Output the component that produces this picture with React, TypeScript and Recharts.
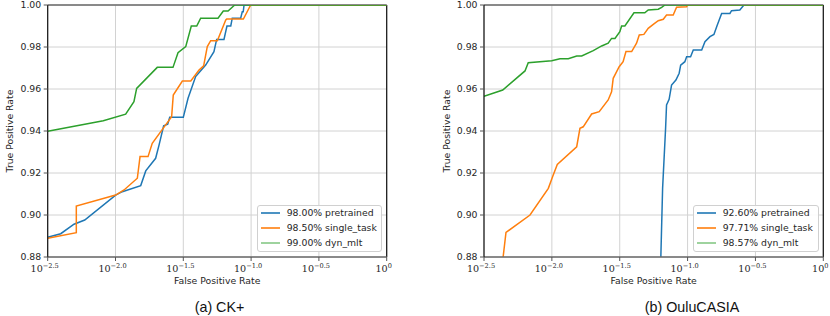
import React from 'react';
import { LineChart, Line, XAxis, YAxis, CartesianGrid, ReferenceLine, Legend } from 'recharts';

// Axis ticks (x axis is log10 of the false positive rate)
const xTicks = [-2.5, -2, -1.5, -1, -0.5, 0];
const xTickExponents = ['\u22122.5', '\u22122.0', '\u22121.5', '\u22121.0', '\u22120.5', '0'];
const yTicks = [0.88, 0.9, 0.92, 0.94, 0.96, 0.98, 1.0];

const seriesNames = ['pretrained', 'single_task', 'dyn_mlt'];
const ckScores = ['98.00%', '98.50%', '99.00%'];
const ouluScores = ['92.60%', '97.71%', '98.57%'];
const captions = ['(a) CK+', '(b) OuluCASIA'];

// [log10(FPR), TPR]
const ckPretrained: number[][] = [
  [-2.5, 0.8894], [-2.404, 0.8911], [-2.306, 0.8956], [-2.227, 0.8976], [-1.999, 0.9095],
  [-1.95, 0.9111], [-1.814, 0.914], [-1.777, 0.921], [-1.704, 0.927], [-1.679, 0.9333],
  [-1.645, 0.9425], [-1.615, 0.9432], [-1.6, 0.9465], [-1.5, 0.9465], [-1.465, 0.9556],
  [-1.409, 0.9659], [-1.335, 0.9714], [-1.274, 0.9778], [-1.254, 0.9836], [-1.2, 0.9836],
  [-1.178, 0.99], [-1.15, 0.99], [-1.139, 0.9937], [-1.077, 0.9937], [-1.065, 0.9968],
  [-1.058, 0.9968], [-1.052, 1.0], [0, 1.0],
];
const ckSingleTask: number[][] = [
  [-2.5, 0.8889], [-2.289, 0.8916], [-2.289, 0.9043], [-1.999, 0.9095], [-1.937, 0.9119],
  [-1.839, 0.9175], [-1.819, 0.9278], [-1.76, 0.9278], [-1.729, 0.9341], [-1.63, 0.9429],
  [-1.586, 0.9468], [-1.574, 0.9571], [-1.507, 0.9638], [-1.445, 0.9638], [-1.384, 0.969],
  [-1.35, 0.971], [-1.323, 0.9802], [-1.298, 0.983], [-1.249, 0.983], [-1.187, 0.9929],
  [-1.18, 0.9933], [-1.057, 0.9933], [-1.003, 1.0], [0, 1.0],
];
const ckDynMlt: number[][] = [
  [-2.5, 0.9399], [-2.09, 0.9449], [-1.925, 0.948], [-1.864, 0.954], [-1.844, 0.9603],
  [-1.692, 0.9703], [-1.576, 0.9703], [-1.539, 0.9773], [-1.482, 0.9802], [-1.441, 0.99],
  [-1.401, 0.99], [-1.372, 0.9937], [-1.244, 0.9937], [-1.205, 0.9971], [-1.17, 0.9971],
  [-1.121, 1.0], [0, 1.0],
];

const ouluPretrained: number[][] = [
  [-1.201, 0.87], [-1.184, 0.9127], [-1.162, 0.9413], [-1.155, 0.9524], [-1.136, 0.9551],
  [-1.118, 0.9619], [-1.086, 0.9643], [-1.062, 0.9675], [-1.051, 0.9714], [-1.02, 0.973],
  [-1.007, 0.9754], [-0.978, 0.9754], [-0.958, 0.9786], [-0.896, 0.9786], [-0.872, 0.9825],
  [-0.835, 0.9849], [-0.806, 0.986], [-0.781, 0.9905], [-0.749, 0.996], [-0.688, 0.996],
  [-0.676, 0.9973], [-0.615, 0.9976], [-0.585, 1.0], [0, 1.0],
];
const ouluSingleTask: number[][] = [
  [-2.368, 0.875], [-2.338, 0.8917], [-2.161, 0.9], [-2.026, 0.9127], [-1.994, 0.9183],
  [-1.96, 0.9241], [-1.817, 0.9325], [-1.793, 0.9413], [-1.769, 0.942], [-1.707, 0.9481],
  [-1.651, 0.9492], [-1.585, 0.9548], [-1.56, 0.9587], [-1.548, 0.9651], [-1.504, 0.9706],
  [-1.475, 0.973], [-1.454, 0.9778], [-1.412, 0.9778], [-1.376, 0.9818], [-1.356, 0.9857],
  [-1.322, 0.986], [-1.29, 0.9889], [-1.248, 0.991], [-1.216, 0.9925], [-1.179, 0.9932],
  [-1.155, 0.9952], [-1.106, 0.9952], [-1.081, 0.9989], [-1.007, 0.9992], [-1.0, 1.0], [0, 1.0],
];
const ouluDynMlt: number[][] = [
  [-2.5, 0.9565], [-2.362, 0.9595], [-2.198, 0.9686], [-2.174, 0.9725], [-2.001, 0.9735],
  [-1.94, 0.9744], [-1.879, 0.9744], [-1.817, 0.9757], [-1.78, 0.9757], [-1.695, 0.9783],
  [-1.633, 0.9805], [-1.585, 0.9818], [-1.56, 0.9841], [-1.535, 0.9841], [-1.499, 0.9873],
  [-1.486, 0.99], [-1.462, 0.99], [-1.395, 0.9963], [-1.315, 0.9963], [-1.29, 0.9976],
  [-1.216, 0.998], [-1.191, 0.9989], [-1.167, 1.0], [0, 1.0],
];

const colors = ['#1f77b4', '#ff7f0e', '#2ca02c'];
const legendColors = ['#1f77b4', '#ff7f0e', '#86c986'];

const SANS = "'DejaVu Sans', sans-serif";
const SERIF = "'DejaVu Serif', serif";
const TEXT = '#262626';

const toPoints = (arr: number[][]) => arr.map(([x, y]) => ({ x, y }));

const XTick = (props: any) => {
  const { x, y, payload } = props;
  const i = xTicks.indexOf(payload.value);
  return (
    <text x={x - 3} y={y + 9} textAnchor="middle" fontFamily={SERIF} fontSize={9.6} fill={TEXT}>
      <tspan>10</tspan>
      <tspan dy={-4.5} fontSize={6.6}>{xTickExponents[i]}</tspan>
    </text>
  );
};

const rowCenters = [8.3, 23.3, 37.7];

const makeLegend = (labels: string[]) => () => (
  <div
    style={{
      position: 'relative', width: '100%', height: '100%', boxSizing: 'border-box',
      border: '1px solid #d0d0d0', borderRadius: 3, background: 'rgba(255,255,255,0.9)',
      fontFamily: SANS, fontSize: 9.3, color: TEXT,
    }}
  >
    {labels.map((lab, i) => (
      <div key={i} style={{ position: 'absolute', left: 0, top: rowCenters[i] - 7, height: 12, width: '100%' }}>
        <svg style={{ position: 'absolute', left: 3, top: 5 }} width={19} height={2}>
          <line x1={0} y1={1} x2={19} y2={1} stroke={legendColors[i]} strokeWidth={1.6} />
        </svg>
        <span style={{ position: 'absolute', left: 29, top: 0, lineHeight: '12px', whiteSpace: 'nowrap' }}>{lab}</span>
      </div>
    ))}
  </div>
);

type PanelProps = {
  left: number;
  plotLeft: number;
  plotRight: number;
  series: number[][][];
  scores: string[];
  legendLeft: number;
  legendWidth: number;
};

function Panel({ left, plotLeft, plotRight, series, scores, legendLeft, legendWidth }: PanelProps) {
  const width = 415;
  const height = 316;
  const yAxisW = 40;
  const xAxisH = 30;
  const margin = { top: 5, right: width - plotRight, bottom: 59 - xAxisH, left: plotLeft - yAxisW };
  const labels = scores.map((s, i) => `${s} ${seriesNames[i]}`);
  return (
    <div style={{ position: 'absolute', left, top: 0, width, height }}>
      <LineChart width={width} height={height} margin={margin}>
        <CartesianGrid stroke="#d2d2d2" strokeWidth={1} />
        <XAxis
          dataKey="x"
          type="number"
          domain={[-2.5, 0]}
          ticks={xTicks}
          allowDataOverflow
          height={xAxisH}
          tick={<XTick />}
          tickSize={4}
          tickMargin={2}
          tickLine={{ stroke: '#555' }}
          axisLine={{ stroke: '#6a6a6a', strokeWidth: 1.6 }}
          label={{
            content: (p: any) => (
              <text
                x={p.viewBox.x + p.viewBox.width / 2}
                y={p.viewBox.y + 26.5}
                textAnchor="middle"
                fontFamily={SANS}
                fontSize={9.3}
                fill={TEXT}
              >
                False Positive Rate
              </text>
            ),
          }}
        />
        <YAxis
          dataKey="y"
          type="number"
          domain={[0.88, 1.0]}
          ticks={yTicks}
          allowDataOverflow
          width={yAxisW}
          tickFormatter={(v: number) => v.toFixed(2)}
          tick={{ fontSize: 9.3, fontFamily: SANS, fill: TEXT }}
          tickSize={4}
          tickMargin={2.5}
          tickLine={{ stroke: '#555' }}
          axisLine={{ stroke: '#111', strokeWidth: 1.2 }}
          label={{
            content: (p: any) => {
              const cx = p.viewBox.x + p.viewBox.width - 37.5;
              const cy = p.viewBox.y + p.viewBox.height / 2;
              return (
                <text
                  x={cx}
                  y={cy}
                  dy="0.35em"
                  textAnchor="middle"
                  transform={`rotate(-90 ${cx} ${cy})`}
                  fontFamily={SANS}
                  fontSize={9.3}
                  fill={TEXT}
                >
                  True Positive Rate
                </text>
              );
            },
          }}
        />
        <ReferenceLine y={1.0} stroke="#6a6a6a" strokeWidth={1.6} />
        <ReferenceLine x={0} stroke="#111" strokeWidth={1.2} />
        {series.map((s, i) => (
          <Line
            key={seriesNames[i]}
            data={toPoints(s)}
            dataKey="y"
            name={labels[i]}
            type="linear"
            stroke={colors[i]}
            strokeWidth={1.5}
            dot={false}
            activeDot={false}
            isAnimationActive={false}
          />
        ))}
        <Legend
          layout="vertical"
          align="center"
          verticalAlign="middle"
          width={legendWidth}
          height={47}
          wrapperStyle={{ left: legendLeft, top: 205, width: legendWidth, height: 47 }}
          content={makeLegend(labels)}
        />
      </LineChart>
    </div>
  );
}

export default function App() {
  const captionCenters = [219.5, 692];
  return (
    <div style={{ position: 'absolute', left: 0, top: 0, width: 830, height: 316, background: '#fff', overflow: 'hidden' }}>
      <Panel
        left={0}
        plotLeft={47.7}
        plotRight={386.7}
        series={[ckPretrained, ckSingleTask, ckDynMlt]}
        scores={ckScores}
        legendLeft={256.7}
        legendWidth={125.3}
      />
      <Panel
        left={415}
        plotLeft={69}
        plotRight={408.3}
        series={[ouluPretrained, ouluSingleTask, ouluDynMlt]}
        scores={ouluScores}
        legendLeft={277.7}
        legendWidth={126.6}
      />
      {captions.map((c, i) => (
        <div
          key={c}
          style={{
            position: 'absolute', left: captionCenters[i] - 100, width: 200, top: 298.5,
            textAlign: 'center', fontFamily: "'Liberation Sans', Arial, sans-serif",
            fontSize: 14.3, lineHeight: '16px', color: '#111',
          }}
        >
          {c}
        </div>
      ))}
    </div>
  );
}
